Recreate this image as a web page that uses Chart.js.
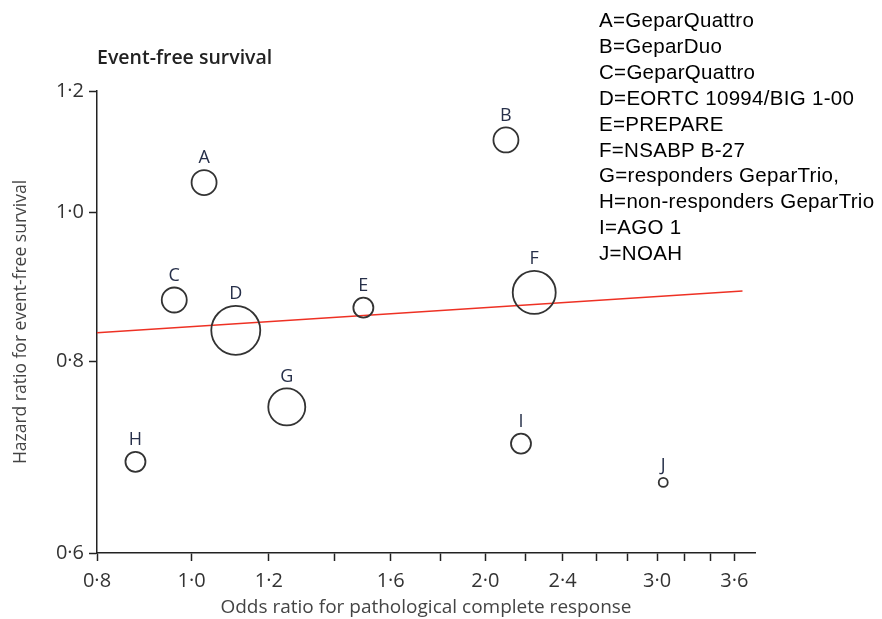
<!DOCTYPE html>
<html>
<head>
<meta charset="utf-8">
<script src="https://cdn.jsdelivr.net/npm/chart.js@4.4.0/dist/chart.umd.min.js"></script>
<style>
  body { margin: 0; background: #fff; }
  #wrap { position: relative; width: 882px; height: 619px; }
  #title { position: absolute; left: 97px; top: 43px; font: 600 19.5px "Open Sans", sans-serif; color: #222; }
  #key { position: absolute; left: 599px; top: 7px; font: 20.5px "Liberation Sans", Arial, sans-serif; letter-spacing: 0.3px; line-height: 25.9px; color: #000; }
</style>
</head>
<body>
<div id="wrap">
  <canvas id="efsChart" width="882" height="619"></canvas>
  <div id="title">Event-free survival</div>
  <div id="key"></div>
</div>
<script>
const studyLabels = ["A", "B", "C", "D", "E", "F", "G", "H", "I", "J"];
const oddsRatio = [1.03, 2.10, 0.96, 1.11, 1.50, 2.245, 1.252, 0.876, 2.176, 3.044];
const hazardRatio = [1.046, 1.115, 0.877, 0.838, 0.867, 0.887, 0.747, 0.688, 0.707, 0.667];
const studyWeight = [12.5, 12.5, 12.5, 24.5, 10, 21.5, 18.5, 10, 10, 4.5];

const fitOdds = [0.8, 3.67];
const fitHazard = [0.835, 0.889];

const xTicks = [0.8, 1.0, 1.2, 1.4, 1.6, 1.8, 2.0, 2.2, 2.4, 2.6, 2.8, 3.0, 3.2, 3.4, 3.6];
const xLabelled = [0.8, 1.0, 1.2, 1.6, 2.0, 2.4, 3.0, 3.6];
const yTicks = [0.6, 0.8, 1.0, 1.2];

const keyLines = [
  "A=GeparQuattro", "B=GeparDuo", "C=GeparQuattro", "D=EORTC 10994/BIG 1-00",
  "E=PREPARE", "F=NSABP B-27", "G=responders GeparTrio,", "H=non-responders GeparTrio",
  "I=AGO 1", "J=NOAH"
];

document.getElementById("key").innerHTML = keyLines.join("<br>");

const fmt = v => v.toFixed(1).replace(".", "\u00b7");
const tickFont = { family: "'Open Sans', sans-serif", size: 20 };

// letters above each circle
const letterPlugin = {
  id: "letters",
  afterDatasetsDraw(chart) {
    const meta = chart.getDatasetMeta(0);
    const c = chart.ctx;
    c.save();
    c.font = "18px 'Open Sans', sans-serif";
    c.fillStyle = "#27304a";
    c.textAlign = "center";
    c.textBaseline = "bottom";
    meta.data.forEach((pt, i) => {
      c.fillText(studyLabels[i], pt.x, pt.y - studyWeight[i] - 3);
    });
    c.restore();
  }
};

new Chart(document.getElementById("efsChart"), {
  data: {
    datasets: [
      {
        type: "bubble",
        data: oddsRatio.map((x, i) => ({ x: x, y: hazardRatio[i], r: studyWeight[i] })),
        backgroundColor: "rgba(0,0,0,0)",
        borderColor: "#333",
        borderWidth: 1.8,
        hoverBorderWidth: 1.8
      },
      {
        type: "line",
        data: fitOdds.map((x, i) => ({ x: x, y: fitHazard[i] })),
        borderColor: "#ee3124",
        borderWidth: 1.5,
        pointRadius: 0,
        fill: false
      }
    ]
  },
  options: {
    responsive: false,
    animation: false,
    layout: { padding: { left: 0, top: 91, right: 127, bottom: 0 } },
    plugins: { legend: { display: false }, tooltip: { enabled: false } },
    scales: {
      x: {
        type: "logarithmic",
        min: 0.8,
        max: 3.78,
        afterBuildTicks: s => { s.ticks = xTicks.map(v => ({ value: v })); },
        afterFit: s => { s.height = 66; },
        ticks: {
          autoSkip: false,
          maxRotation: 0,
          padding: 8,
          color: "#333",
          font: tickFont,
          callback: v => xLabelled.some(l => Math.abs(l - v) < 1e-6) ? fmt(v) : ""
        },
        grid: { drawOnChartArea: false, drawTicks: true, tickLength: 8, tickColor: "#222", tickWidth: 1.5 },
        border: { color: "#222", width: 1.5 },
        title: {
          display: true,
          text: "Odds ratio for pathological complete response",
          color: "#444",
          font: { family: "'Open Sans', sans-serif", size: 19 },
          padding: { top: 0, bottom: 0 }
        }
      },
      y: {
        type: "logarithmic",
        min: 0.6,
        max: 1.2,
        afterBuildTicks: s => { s.ticks = yTicks.map(v => ({ value: v })); },
        afterFit: s => { s.width = 97; },
        ticks: { padding: 5, color: "#333", font: tickFont, callback: v => fmt(v) },
        grid: { drawOnChartArea: false, drawTicks: true, tickLength: 8, tickColor: "#222", tickWidth: 1.5 },
        border: { color: "#222", width: 1.5 },
        title: {
          display: true,
          text: "Hazard ratio for event-free survival",
          color: "#444",
          font: { family: "'Open Sans', sans-serif", size: 17.5 },
          padding: { top: 11, bottom: 0 }
        }
      }
    }
  },
  plugins: [letterPlugin]
});
</script>
</body>
</html>
